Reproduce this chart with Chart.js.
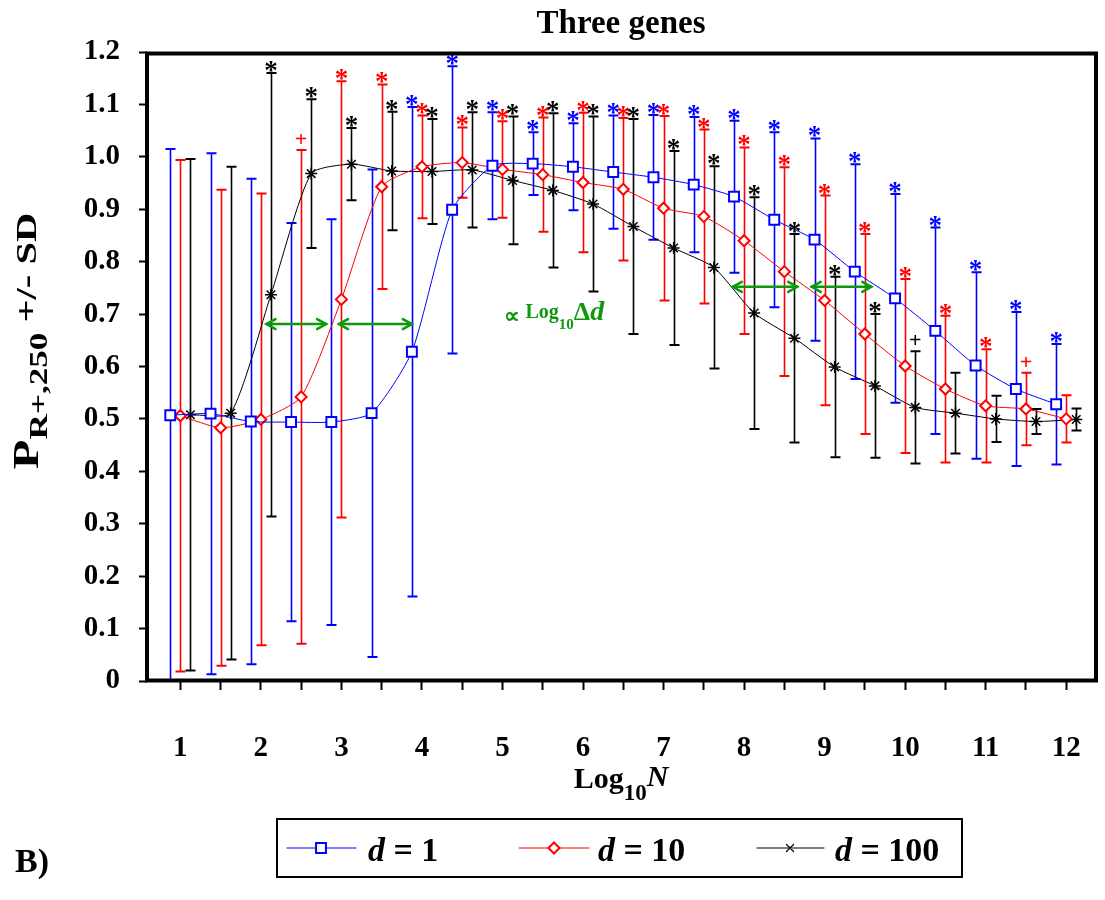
<!DOCTYPE html>
<html>
<head>
<meta charset="utf-8">
<script src="https://cdn.jsdelivr.net/npm/chart.js@4.4.1/dist/chart.umd.min.js"></script>
<style>
  html, body { margin: 0; padding: 0; background: #fff; }
  #wrap { width: 1105px; height: 900px; position: relative; }
</style>
</head>
<body>
<div id="wrap"><canvas id="c" width="1105" height="900"></canvas></div>
<script>
// Log10 N sampling points
const logN = [1, 1.5, 2, 2.5, 3, 3.5, 4, 4.5, 5, 5.5, 6, 6.5, 7, 7.5, 8, 8.5, 9, 9.5, 10, 10.5, 11, 11.5, 12];
const xTickLabels = ['1', '2', '3', '4', '5', '6', '7', '8', '9', '10', '11', '12'];
const yTickLabels = ['0', '0.1', '0.2', '0.3', '0.4', '0.5', '0.6', '0.7', '0.8', '0.9', '1.0', '1.1', '1.2'];

// d = 1
const meanD1 = [0.507, 0.510, 0.495, 0.494, 0.494, 0.511, 0.628, 0.899, 0.983, 0.987, 0.981, 0.971, 0.961, 0.947, 0.924, 0.880, 0.842, 0.781, 0.730, 0.668, 0.602, 0.557, 0.528];
const sdD1   = [0.508, 0.497, 0.463, 0.380, 0.387, 0.465, 0.467, 0.274, 0.102, 0.060, 0.083, 0.108, 0.119, 0.129, 0.145, 0.167, 0.193, 0.205, 0.199, 0.197, 0.178, 0.147, 0.115];
const markD1 = ['', '', '', '', '', '', '*', '*', '*', '*', '*', '*', '*', '*', '*', '*', '*', '*', '*', '*', '*', '*', '*'];

// d = 10
const meanD10 = [0.506, 0.483, 0.499, 0.542, 0.728, 0.943, 0.981, 0.989, 0.976, 0.966, 0.951, 0.938, 0.902, 0.886, 0.840, 0.781, 0.726, 0.662, 0.601, 0.557, 0.525, 0.519, 0.500];
const sdD10   = [0.488, 0.454, 0.431, 0.471, 0.416, 0.195, 0.098, 0.067, 0.092, 0.109, 0.133, 0.136, 0.176, 0.166, 0.178, 0.199, 0.200, 0.191, 0.166, 0.140, 0.108, 0.069, 0.045];
const markD10 = ['', '', '', '+', '*', '*', '*', '*', '*', '*', '*', '*', '*', '*', '*', '*', '*', '*', '*', '*', '*', '+', ''];

// d = 100
const meanD100 = [0.508, 0.511, 0.737, 0.968, 0.986, 0.973, 0.972, 0.975, 0.955, 0.936, 0.910, 0.867, 0.826, 0.789, 0.702, 0.654, 0.599, 0.563, 0.522, 0.511, 0.500, 0.495, 0.499];
const sdD100   = [0.488, 0.470, 0.423, 0.142, 0.069, 0.113, 0.100, 0.110, 0.122, 0.147, 0.167, 0.205, 0.185, 0.193, 0.221, 0.199, 0.172, 0.137, 0.107, 0.077, 0.044, 0.024, 0.021];
const markD100 = ['', '', '*', '*', '*', '*', '*', '*', '*', '*', '*', '*', '*', '*', '*', '*', '*', '*', '+', '', '', '', ''];

// shift arrows (Log10 N from, to, at P)
const arrowFrom = [2.07, 2.97, 7.86, 8.84];
const arrowTo   = [2.81, 3.875, 8.66, 9.58];
const arrowAt   = [0.681, 0.681, 0.752, 0.752];

const seriesLabels = ['1', '10', '100'];
const seriesColors = ['#0000ff', '#ff0000', '#000000'];
const GREEN = '#0c9a0c';
const SERIF = '"Liberation Serif", "Times New Roman", serif';

// small horizontal dodge so the three series' error bars do not overlap
const dodge = [-0.125, 0, 0.125];
const means = [meanD1, meanD10, meanD100];
const sds = [sdD1, sdD10, sdD100];
const marks = [markD1, markD10, markD100];
const styles = ['rect', 'rectRot', 'star'];
const radii = [7, 5.5, 6];

const datasets = means.map((m, s) => ({
  label: 'd = ' + seriesLabels[s],
  data: logN.map((x, i) => ({ x: x + dodge[s], y: m[i] })),
  borderColor: seriesColors[s],
  borderWidth: 1,
  tension: 0.2,
  pointStyle: styles[s],
  pointRadius: radii[s],
  pointHoverRadius: radii[s],
  pointBorderWidth: s === 2 ? 1.5 : 2,
  pointBorderColor: seriesColors[s],
  pointBackgroundColor: '#ffffff',
  fill: false
}));

// error bars, drawn underneath lines and markers
const errorBars = {
  id: 'errorBars',
  beforeDatasetsDraw(chart) {
    const { ctx, chartArea: a, scales: { y } } = chart;
    ctx.save();
    ctx.beginPath();
    ctx.rect(a.left, a.top - 30, a.right - a.left, a.bottom - a.top + 30);
    ctx.clip();
    for (let s = 2; s >= 0; s--) {
      const meta = chart.getDatasetMeta(s);
      ctx.strokeStyle = seriesColors[s];
      meta.data.forEach((pt, i) => {
        const top = y.getPixelForValue(means[s][i] + sds[s][i]);
        const botV = means[s][i] - sds[s][i];
        const bot = y.getPixelForValue(botV);
        const x = Math.round(pt.x) + 0.5;
        ctx.lineWidth = 1.6;
        ctx.beginPath();
        ctx.moveTo(x, top);
        ctx.lineTo(x, Math.min(bot, a.bottom));
        ctx.stroke();
        ctx.lineWidth = 2;
        ctx.beginPath();
        ctx.moveTo(x - 5, top); ctx.lineTo(x + 5, top);
        if (botV > 0.002) { ctx.moveTo(x - 5, bot); ctx.lineTo(x + 5, bot); }
        ctx.stroke();
      });
    }
    ctx.restore();
  },
  afterDatasetsDraw(chart) {
    // significance marks above the upper caps
    const { ctx, scales: { y } } = chart;
    ctx.save();
    ctx.textAlign = 'center';
    ctx.textBaseline = 'alphabetic';
    for (let s = 0; s < 3; s++) {
      const meta = chart.getDatasetMeta(s);
      ctx.fillStyle = seriesColors[s];
      meta.data.forEach((pt, i) => {
        const m = marks[s][i];
        if (!m) return;
        const top = y.getPixelForValue(means[s][i] + sds[s][i]);
        if (m === '*') {
          ctx.font = 'bold 27px ' + SERIF;
          ctx.fillText('*', pt.x, top + 6);
        } else {
          ctx.font = 'bold 22px ' + SERIF;
          ctx.fillText('+', pt.x, top - 4);
        }
      });
    }
    ctx.restore();
  }
};

function partsWidth(ctx, parts) {
  let w = 0;
  parts.forEach(p => { ctx.font = p.font; w += ctx.measureText(p.t).width; });
  return w;
}
function drawParts(ctx, parts, x, y) {
  parts.forEach(p => {
    ctx.font = p.font;
    ctx.fillText(p.t, x, y + (p.dy || 0));
    x += ctx.measureText(p.t).width;
  });
  return x;
}

function arrowHead(ctx, x, y, dir) {
  ctx.beginPath();
  ctx.moveTo(x + dir * 9, y - 5);
  ctx.lineTo(x, y);
  ctx.lineTo(x + dir * 9, y + 5);
  ctx.stroke();
}

const decorations = {
  id: 'decorations',
  afterDraw(chart) {
    const { ctx, chartArea: a, scales: { x, y } } = chart;
    ctx.save();
    // plot frame
    ctx.strokeStyle = '#000';
    ctx.lineWidth = 4;
    ctx.strokeRect(a.left, a.top + 1.5, a.right - a.left, a.bottom - a.top - 2);

    // shift arrows
    ctx.strokeStyle = GREEN;
    ctx.lineWidth = 2.5;
    ctx.lineCap = 'round';
    arrowFrom.forEach((f, i) => {
      const x1 = x.getPixelForValue(f), x2 = x.getPixelForValue(arrowTo[i]);
      const yy = y.getPixelForValue(arrowAt[i]);
      ctx.beginPath();
      ctx.moveTo(x1, yy); ctx.lineTo(x2, yy);
      ctx.stroke();
      arrowHead(ctx, x1, yy, 1);
      arrowHead(ctx, x2, yy, -1);
    });

    // proportionality note
    ctx.fillStyle = GREEN;
    ctx.textAlign = 'left';
    ctx.textBaseline = 'alphabetic';
    drawParts(ctx, [
      { t: '\u221D ', font: 'bold 22px ' + SERIF, dy: 5 },
      { t: 'Log', font: 'bold 20px ' + SERIF, dy: 0 },
      { t: '10', font: 'bold 15px ' + SERIF, dy: 11 },
      { t: '\u0394', font: 'bold 26px ' + SERIF, dy: 2 },
      { t: 'd', font: 'italic bold 28px ' + SERIF, dy: 2 }
    ], 504, 318);

    ctx.fillStyle = '#000';
    // title
    ctx.font = 'bold 33px ' + SERIF;
    ctx.textAlign = 'center';
    ctx.fillText('Three genes', 621, 33);

    // x-axis title
    ctx.textAlign = 'left';
    const xt = [
      { t: 'Log', font: 'bold 30px ' + SERIF, dy: 0 },
      { t: '10', font: 'bold 23px ' + SERIF, dy: 12 },
      { t: 'N', font: 'italic bold 30px ' + SERIF, dy: -2 }
    ];
    drawParts(ctx, xt, 621 - partsWidth(ctx, xt) / 2, 788);

    // y-axis title (rotated, slightly elongated along the text)
    const yt = [
      { t: 'P', font: 'bold 36px ' + SERIF, dy: 0 },
      { t: 'R+,250', font: 'bold 26px ' + SERIF, dy: 9 },
      { t: ' +/- SD', font: 'bold 30px ' + SERIF, dy: -2 }
    ];
    const stretch = 1.35;
    const yw = partsWidth(ctx, yt) * stretch;
    ctx.save();
    ctx.translate(38, 341 + yw / 2);
    ctx.rotate(-Math.PI / 2);
    ctx.scale(stretch, 1);
    drawParts(ctx, yt, 0, 0);
    ctx.restore();

    // panel letter
    ctx.font = 'bold 34px ' + SERIF;
    ctx.fillText('B)', 15, 872);

    // legend
    ctx.strokeStyle = '#000';
    ctx.lineWidth = 2;
    ctx.strokeRect(277, 819, 685, 58);
    const ly = 848;
    const lx = [[287, 356, 321, 368], [519, 589, 554, 598], [757, 824, 790, 835]];
    const lStyles = ['rect', 'rectRot', 'crossRot'];
    const lRadii = [7, 5.5, 5];
    lx.forEach((e, s) => {
      ctx.strokeStyle = seriesColors[s];
      ctx.lineWidth = 1;
      ctx.beginPath();
      ctx.moveTo(e[0], ly); ctx.lineTo(e[1], ly);
      ctx.stroke();
      ctx.fillStyle = '#fff';
      ctx.lineWidth = s === 2 ? 1.2 : 2;
      Chart.helpers.drawPoint(ctx, { pointStyle: lStyles[s], radius: lRadii[s], borderWidth: ctx.lineWidth, rotation: 0 }, e[2], ly);
      ctx.fillStyle = '#000';
      drawParts(ctx, [
        { t: 'd', font: 'italic bold 34px ' + SERIF, dy: 0 },
        { t: ' = ' + seriesLabels[s], font: 'bold 34px ' + SERIF, dy: 0 }
      ], e[3], ly + 13);
    });
    ctx.restore();
  }
};

new Chart(document.getElementById('c'), {
  type: 'line',
  data: { datasets },
  plugins: [errorBars, decorations],
  options: {
    responsive: false,
    animation: false,
    devicePixelRatio: 1,
    layout: { padding: { top: 52, right: 5, left: 0, bottom: 0 } },
    plugins: { legend: { display: false }, title: { display: false }, tooltip: { enabled: false } },
    scales: {
      x: {
        type: 'linear',
        min: 0.586,
        max: 12.37,
        afterFit(scale) {
          scale.height = 219;
          scale.paddingLeft = 0;
          scale.paddingRight = 0;
        },
        afterBuildTicks(scale) { scale.ticks = logN.map(v => ({ value: v })); },
        border: { display: false },
        grid: { drawOnChartArea: false, drawTicks: true, tickLength: 9, tickWidth: 2, tickColor: '#000' },
        ticks: {
          color: '#000',
          padding: 41,
          maxRotation: 0,
          autoSkip: false,
          font: { family: SERIF, size: 29, weight: 'bold' },
          callback(v) { const k = xTickLabels.indexOf(String(v)); return k >= 0 ? xTickLabels[k] : ''; }
        }
      },
      y: {
        min: 0,
        max: 1.2,
        afterFit(scale) {
          scale.width = 147;
          scale.paddingTop = 0;
          scale.paddingBottom = 0;
        },
        afterBuildTicks(scale) { scale.ticks = yTickLabels.map(t => ({ value: parseFloat(t) })); },
        border: { display: false },
        grid: { drawOnChartArea: false, drawTicks: true, tickLength: 8, tickWidth: 2, tickColor: '#000' },
        ticks: {
          color: '#000',
          padding: 19,
          autoSkip: false,
          font: { family: SERIF, size: 29, weight: 'bold' },
          callback(v, i) { return yTickLabels[i]; }
        }
      }
    }
  }
});
</script>
</body>
</html>
